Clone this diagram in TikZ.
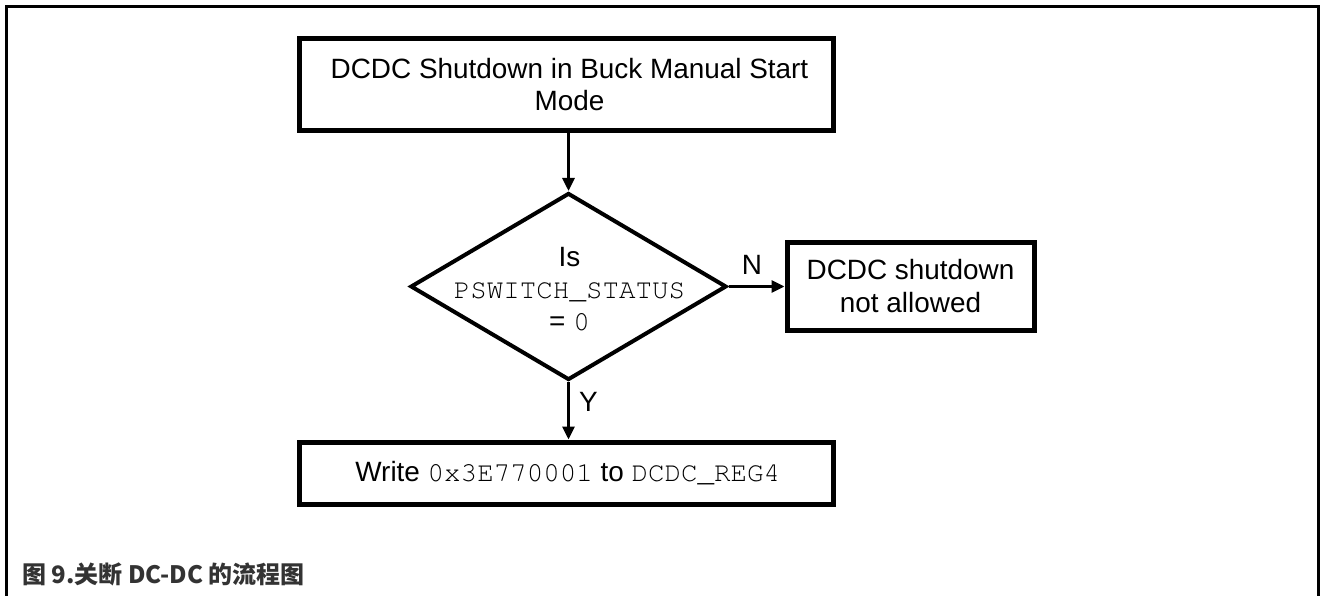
\documentclass[tikz,border=0pt]{standalone}
\usepackage{fontspec}
\setmainfont{Liberation Sans}
\setmonofont{texgyrecursor-regular.otf}[Scale=0.986]
\newfontfamily\cjk{Noto Sans CJK SC}
\usetikzlibrary{arrows.meta,shapes.geometric}
\definecolor{captiongray}{RGB}{51,51,51}
\tikzset{
  box/.style={draw, line width=5pt, inner sep=0pt, align=center,
    font=\fontsize{27.9}{33}\selectfont},
  decision/.style={draw, diamond, line width=4pt, inner sep=0pt},
  txt/.style={inner sep=0pt, align=center, font=\fontsize{27.9}{32}\selectfont},
  arr/.style={line width=3pt, -{Triangle[length=13pt,width=12pt]}},
  frame/.style={line width=3pt},
}
\begin{document}
\begin{tikzpicture}[x=1pt,y=-1pt]
\useasboundingbox (0,0) rectangle (1320,596);
% outer frame (open at the bottom)
\draw[frame] (6.5,596) -- (6.5,6.5) -- (1318,6.5) -- (1318,596);

% start box
\node[box, minimum width=533.5pt, minimum height=92pt] (start) at (566.25,84.5) {};
\node[txt] (starttxt) at (569.5,84.5) {DCDC Shutdown in Buck Manual Start\\Mode};

% decision
\node[decision, minimum width=316pt, minimum height=187pt] (dec) at (568.5,286.5) {};
\node[txt] (dectxt) at (569.5,289.5) {Is\\\texttt{PSWITCH\_STATUS}\\= \texttt{0}};

% refusal box
\node[box, minimum width=247pt, minimum height=87pt] (deny) at (910.5,286.5)
  {DCDC shutdown\\not allowed};

% write box
\node[box, minimum width=533.5pt, minimum height=62pt] (write) at (566.25,473)
  {\hspace*{3pt}Write \texttt{0x3E770001} to \texttt{DCDC\_REG4}};

% connectors
\draw[arr] (start.south -| dec.north) -- (dec.north);
\draw[arr] (dec.east) -- (deny.west);
\draw[arr] (dec.south) -- (write.north -| dec.south);

% branch labels
\node[txt] (nlab) at (752,265) {N};
\node[txt] (ylab) at (588.5,402) {Y};

% caption
\node[anchor=west, inner sep=0pt, text=captiongray,
  font=\cjk\bfseries\fontsize{24}{28}\selectfont] (cap) at (22,574)
  {图 9.关断 DC-DC 的流程图};
\end{tikzpicture}
\end{document}
